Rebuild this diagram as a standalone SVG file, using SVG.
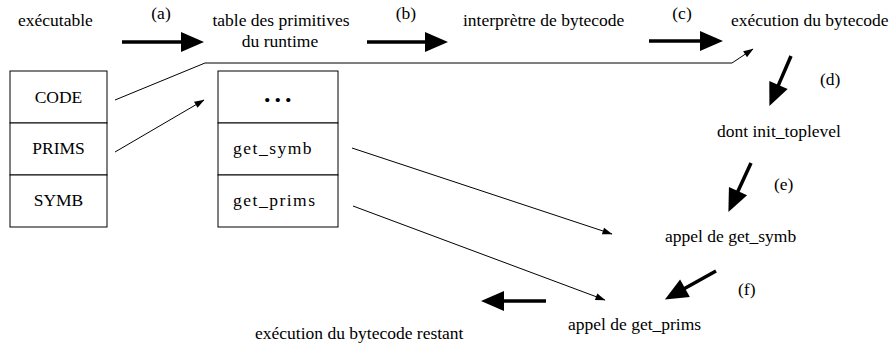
<svg xmlns="http://www.w3.org/2000/svg" width="892" height="343" viewBox="0 0 892 343">
<style>
text{font-family:"Liberation Serif","Times New Roman",serif;font-size:17.5px;fill:#000}
.mid{text-anchor:middle}
.cell{fill:#fff;stroke:#000;stroke-width:1}
.thick{stroke:#000;stroke-width:3.5;fill:none}
.thin{stroke:#000;stroke-width:1;fill:none}
.mono{letter-spacing:1.5px}
.dots{font-weight:bold;font-size:26px;letter-spacing:4px}
</style>
<defs>
<marker id="big" markerUnits="userSpaceOnUse" markerWidth="24" markerHeight="20" refX="1" refY="10" orient="auto" overflow="visible">
<path d="M0,0 L23,10 L0,20 z" fill="#000"/>
</marker>
<marker id="small" markerUnits="userSpaceOnUse" markerWidth="11" markerHeight="7" refX="9.5" refY="3.5" orient="auto" overflow="visible">
<path d="M0,0 L10,3.5 L0,7 z" fill="#000"/>
</marker>
</defs>

<g id="n-executable"><text x="18" y="26">exécutable</text></g>
<g id="n-table"><text class="mid" x="281" y="26">table des primitives</text><text class="mid" x="280" y="47">du runtime</text></g>
<g id="n-interp"><text x="463" y="26">interprètre de bytecode</text></g>
<g id="n-exec"><text x="731" y="26">exécution du bytecode</text></g>
<g id="n-init"><text x="717" y="137">dont init_toplevel</text></g>
<g id="n-getsymb"><text x="665" y="242">appel de get_symb</text></g>
<g id="n-getprims"><text x="568" y="330">appel de get_prims</text></g>
<g id="n-rest"><text x="255" y="339">exécution du bytecode restant</text></g>

<g id="n-file">
<rect class="cell" x="10" y="71" width="97" height="52"/>
<rect class="cell" x="10" y="123" width="97" height="52"/>
<rect class="cell" x="10" y="175" width="97" height="52"/>
<text class="mid" x="58.5" y="103">CODE</text>
<text class="mid" x="58.5" y="154">PRIMS</text>
<text class="mid" x="58.5" y="206">SYMB</text>
</g>
<g id="n-prims">
<rect class="cell" x="218" y="71" width="120" height="52"/>
<rect class="cell" x="218" y="123" width="120" height="52"/>
<rect class="cell" x="218" y="175" width="120" height="52"/>
<text class="dots" x="264" y="102">...</text>
<text class="mono" x="233" y="154">get_symb</text>
<text class="mono" x="233" y="206">get_prims</text>
</g>

<g id="labels">
<text class="mid" x="161" y="19">(a)</text>
<text class="mid" x="406" y="19">(b)</text>
<text class="mid" x="682" y="19">(c)</text>
<text x="820" y="85">(d)</text>
<text x="774" y="190">(e)</text>
<text x="738" y="295">(f)</text>
</g>

<g id="connectors">
<line class="thick" x1="122" y1="42" x2="182" y2="42" marker-end="url(#big)"/>
<line class="thick" x1="367" y1="42" x2="426" y2="42" marker-end="url(#big)"/>
<line class="thick" x1="649" y1="41" x2="701" y2="41" marker-end="url(#big)"/>
<line class="thick" x1="791" y1="56" x2="778.1" y2="85.9" marker-end="url(#big)"/>
<line class="thick" x1="751" y1="163" x2="737.6" y2="192.1" marker-end="url(#big)"/>
<line class="thick" x1="716" y1="271" x2="684.1" y2="288.8" marker-end="url(#big)"/>
<line class="thick" x1="546" y1="301" x2="503" y2="301" marker-end="url(#big)"/>
<polyline class="thin" points="115,100 205,63 732,63 753,49" marker-end="url(#small)"/>
<line class="thin" x1="115" y1="152" x2="204" y2="100" marker-end="url(#small)"/>
<line class="thin" x1="352" y1="148" x2="612" y2="234" marker-end="url(#small)"/>
<line class="thin" x1="353" y1="206" x2="605" y2="300" marker-end="url(#small)"/>
</g>
</svg>
